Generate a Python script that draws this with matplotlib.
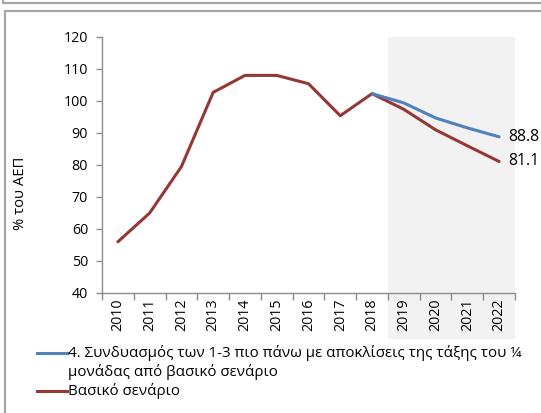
import matplotlib
matplotlib.use('Agg')
import numpy as np
from matplotlib import pyplot as plt
from matplotlib import transforms
from matplotlib.patches import Rectangle
from matplotlib.lines import Line2D

plt.rcParams['font.family'] = ['Open Sans', 'DejaVu Sans']

# data
years = [str(y) for y in range(2010, 2023)]
base = [56, 65, 79.5, 102.7, 108, 108, 105.4, 95.4, 102.3, 97.4, 91, 86, 81.1]
combo = [np.nan] * 8 + [102.3, 99.4, 94.7, 91.6, 88.8]
label_combo_1 = '4. Συνδυασμός των 1-3 πιο πάνω με αποκλίσεις της τάξης του ¼'
label_combo_2 = 'μονάδας από βασικό σενάριο'
label_base = 'Βασικό σενάριο'
ylabel = '% του ΑΕΠ'

blue = '#4F81BD'
red = '#953735'
grey = '#8c8c8c'

W, H = 541, 413
fig = plt.figure(figsize=(W / 100, H / 100), dpi=100)
ax = fig.add_axes([102 / W, 1 - 293 / H, (515 - 102) / W, (293 - 37) / H])

x = np.arange(len(years))
ax.plot(x, base, color=red, lw=2.2, zorder=3, solid_capstyle='round')
ax.plot(x, combo, color=blue, lw=2.2, zorder=4, solid_capstyle='round')

# shaded projection period, reaching down behind the tick labels
trans = transforms.blended_transform_factory(ax.transData, ax.transAxes)
ax.add_patch(Rectangle((8.5, -0.18), 4, 1.18, transform=trans, facecolor='#f2f2f2',
                       edgecolor='none', clip_on=False, zorder=0))

ax.text(x[-1] + 0.3, combo[-1], '88.8', va='center', ha='left', fontsize=11.3, clip_on=False)
ax.text(x[-1] + 0.3, base[-1], '81.1', va='center', ha='left', fontsize=11.3, clip_on=False)

ax.set_xlim(-0.5, 12.5)
ax.set_ylim(40, 120)
ax.set_yticks(range(40, 121, 10))
ax.set_xticks(x)
ax.set_xticklabels(years, rotation=90, fontsize=10.3)
ax.set_xticks(np.arange(-0.5, 13, 1), minor=True)
ax.tick_params(axis='x', which='major', length=0, pad=4)
ax.tick_params(axis='x', which='minor', length=5, color=grey, width=1)
ax.tick_params(axis='y', length=4, color=grey, width=1, labelsize=10.3, pad=6)
for s in ['top', 'right']:
    ax.spines[s].set_visible(False)
for s in ['left', 'bottom']:
    ax.spines[s].set_color(grey)
    ax.spines[s].set_linewidth(1)
ax.patch.set_alpha(0)

fig.text(21 / W, 1 - 193 / H, ylabel, rotation=90, ha='center', va='center', fontsize=10.6)

# legend drawn by hand (first entry wraps onto two lines)
y1, y2, y3 = 1 - 353 / H, 1 - 372 / H, 1 - 391 / H
fig.add_artist(Line2D([37 / W, 67 / W], [y1, y1], color=blue, lw=2.2))
fig.add_artist(Line2D([37 / W, 67 / W], [y3, y3], color=red, lw=2.2))
fig.text(68 / W, y1, label_combo_1, ha='left', va='center', fontsize=10.9)
fig.text(68 / W, y2, label_combo_2, ha='left', va='center', fontsize=10.9)
fig.text(68 / W, y3, label_base, ha='left', va='center', fontsize=10.9)

# surrounding frames
frame_col = '#a6a6a6'
fig.add_artist(Line2D([5 / W, 5 / W, 1.01], [-0.01, 1 - 11 / H, 1 - 11 / H], color=frame_col, lw=1.6))
fig.add_artist(Line2D([3 / W, 3 / W, 1.01], [1.01, 1 - 3 / H, 1 - 3 / H], color=frame_col, lw=1.6))

fig.savefig('out.png', dpi=100)
